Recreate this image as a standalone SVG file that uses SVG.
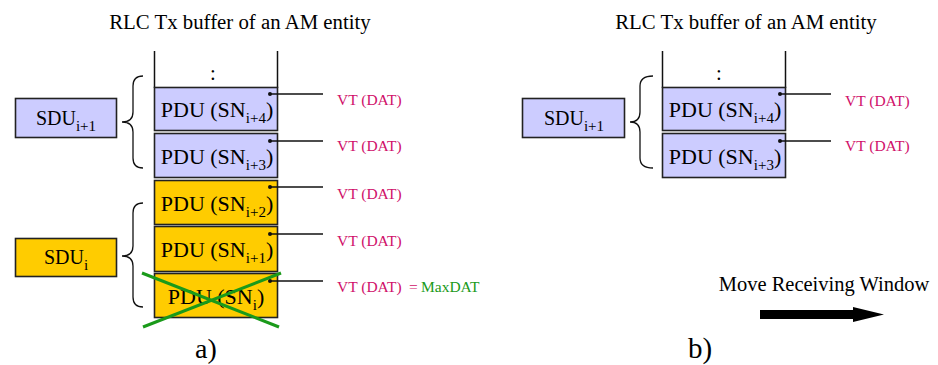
<svg xmlns="http://www.w3.org/2000/svg" width="938" height="365" viewBox="0 0 938 365">
<style>
text{font-family:"Liberation Serif","Times New Roman",serif;fill:#000}
.title{font-size:20.8px}
.pdu{font-size:22px}
.sdu{font-size:20px}
.sub{font-size:15px}
.vt{font-size:15.5px;fill:#d0106a}
.grn{fill:#1a9a1a}
.lav{fill:#ccccff;stroke:#222;stroke-width:1.6}
.yel{fill:#ffcc00;stroke:#222;stroke-width:1.6}
.ln{stroke:#111;stroke-width:1.5;fill:none}
.brace{stroke:#111;stroke-width:1.3;fill:none}
.dot{fill:#111}
</style>
<rect width="938" height="365" fill="#fff"/>

<text class="title" x="240" y="29" text-anchor="middle">RLC Tx buffer of an AM entity</text>
<text class="title" x="746" y="29" text-anchor="middle">RLC Tx buffer of an AM entity</text>

<g id="bufferA">
<line class="ln" x1="154.5" y1="51" x2="154.5" y2="88"/>
<line class="ln" x1="277.5" y1="51" x2="277.5" y2="88"/>
<text class="title" x="213" y="80" text-anchor="middle">:</text>
</g>

<g id="pduA4">
<rect class="lav" x="154.5" y="87.5" width="123" height="43"/>
<text class="pdu" x="217" y="117" text-anchor="middle">PDU (SN<tspan class="sub" dy="6">i+4</tspan><tspan dy="-6">)</tspan></text>
<circle class="dot" cx="270" cy="94" r="2"/>
</g>
<g id="pduA3">
<rect class="lav" x="154.5" y="133.5" width="123" height="44"/>
<text class="pdu" x="217" y="164" text-anchor="middle">PDU (SN<tspan class="sub" dy="6">i+3</tspan><tspan dy="-6">)</tspan></text>
<circle class="dot" cx="270" cy="141" r="2"/>
</g>
<g id="pduA2">
<rect class="yel" x="154.5" y="180.5" width="123" height="44"/>
<text class="pdu" x="217" y="211" text-anchor="middle">PDU (SN<tspan class="sub" dy="6">i+2</tspan><tspan dy="-6">)</tspan></text>
<circle class="dot" cx="270" cy="187" r="2"/>
</g>
<g id="pduA1">
<rect class="yel" x="154.5" y="226.5" width="123" height="45"/>
<text class="pdu" x="217" y="257" text-anchor="middle">PDU (SN<tspan class="sub" dy="6">i+1</tspan><tspan dy="-6">)</tspan></text>
<circle class="dot" cx="270" cy="234" r="2"/>
</g>
<g id="pduA0">
<rect class="yel" x="154.5" y="273.5" width="123" height="44"/>
<text class="pdu" x="216" y="304" text-anchor="middle">PDU (SN<tspan class="sub" dy="6">i</tspan><tspan dy="-6">)</tspan></text>
<circle class="dot" cx="270" cy="281" r="2"/>
<line x1="142" y1="273" x2="279" y2="327" stroke="#1a9a1a" stroke-width="3"/>
<line x1="143" y1="327" x2="281" y2="273" stroke="#1a9a1a" stroke-width="3"/>
</g>

<g id="sduA1">
<rect class="lav" x="15.5" y="98.5" width="101" height="39"/>
<text class="sdu" x="66" y="125" text-anchor="middle">SDU<tspan class="sub" dy="6">i+1</tspan></text>
</g>
<g id="sduA0">
<rect class="yel" x="15.5" y="238.5" width="101" height="38"/>
<text class="sdu" x="66" y="264" text-anchor="middle">SDU<tspan class="sub" dy="6">i</tspan></text>
</g>

<g id="bufferB">
<line class="ln" x1="662.5" y1="51" x2="662.5" y2="88"/>
<line class="ln" x1="785.5" y1="51" x2="785.5" y2="88"/>
<text class="title" x="719" y="80" text-anchor="middle">:</text>
</g>
<g id="pduB4">
<rect class="lav" x="662.5" y="87.5" width="123" height="43"/>
<text class="pdu" x="725" y="117" text-anchor="middle">PDU (SN<tspan class="sub" dy="6">i+4</tspan><tspan dy="-6">)</tspan></text>
<circle class="dot" cx="780" cy="94" r="2"/>
</g>
<g id="pduB3">
<rect class="lav" x="662.5" y="133.5" width="123" height="44"/>
<text class="pdu" x="725" y="164" text-anchor="middle">PDU (SN<tspan class="sub" dy="6">i+3</tspan><tspan dy="-6">)</tspan></text>
<circle class="dot" cx="780" cy="141" r="2"/>
</g>
<g id="sduB1">
<rect class="lav" x="522.5" y="98.5" width="102" height="39"/>
<text class="sdu" x="574" y="125" text-anchor="middle">SDU<tspan class="sub" dy="6">i+1</tspan></text>
</g>

<g id="labels">
<text class="vt" x="337" y="105">VT (DAT)</text>
<text class="vt" x="337" y="151">VT (DAT)</text>
<text class="vt" x="337" y="199">VT (DAT)</text>
<text class="vt" x="337" y="246">VT (DAT)</text>
<text class="vt" x="337" y="292">VT (DAT)</text>
<text class="vt" x="409" y="292">=</text>
<text class="vt grn" x="421" y="292">MaxDAT</text>
<text class="vt" x="845" y="106">VT (DAT)</text>
<text class="vt" x="845" y="151">VT (DAT)</text>
<text x="824" y="291" font-size="20.5" text-anchor="middle">Move Receiving Window</text>
<text x="206" y="358" font-size="28" text-anchor="middle">a)</text>
<text x="700" y="358" font-size="29" text-anchor="middle">b)</text>
</g>

<g id="connectors">
<line class="ln" x1="270" y1="94" x2="323" y2="94"/>
<line class="ln" x1="270" y1="141" x2="323" y2="141"/>
<line class="ln" x1="270" y1="187" x2="323" y2="187"/>
<line class="ln" x1="270" y1="234" x2="323" y2="234"/>
<line class="ln" x1="270" y1="281" x2="323" y2="281"/>
<line class="ln" x1="780" y1="94" x2="831" y2="94"/>
<line class="ln" x1="780" y1="141" x2="831" y2="141"/>
<path class="brace" d="M143,76 Q133,76 133,86 L133,112 Q133,122 122,122 Q133,122 133,132 L133,158 Q133,168 143,168"/>
<path class="brace" d="M143,203 Q133,203 133,213 L133,246 Q133,256 122,256 Q133,256 133,266 L133,297 Q133,307 143,307"/>
<path class="brace" d="M653,76 Q640,76 640,86 L640,112 Q640,122 630,122 Q640,122 640,132 L640,158 Q640,168 653,168"/>
<polygon points="760,310 853,310 853,307 884,314.5 853,322 853,319 760,319" fill="#000"/>
</g>
</svg>
